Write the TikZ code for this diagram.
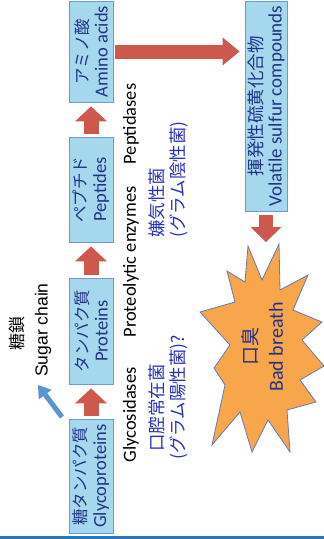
\documentclass[tikz,border=0pt]{standalone}
\usepackage{fontspec}
\setmainfont{Carlito}
\newfontfamily\jp{Noto Sans CJK JP}
\newfontfamily\ari{Liberation Sans}
\usetikzlibrary{arrows.meta}
\definecolor{boxfill}{RGB}{165,216,236}
\definecolor{boxline}{RGB}{110,155,205}
\definecolor{boxtext}{RGB}{35,50,135}
\definecolor{redarr}{RGB}{205,88,78}
\definecolor{labblue}{RGB}{40,50,185}
\definecolor{starfill}{RGB}{248,166,76}
\definecolor{starline}{RGB}{95,125,185}
\definecolor{sugarblue}{RGB}{88,150,210}
\definecolor{barblue}{RGB}{46,117,182}
\begin{document}
\begin{tikzpicture}[x=1pt,y=-1pt,
  stagebox/.style={draw=boxline, line width=0.8pt, fill=boxfill, rotate=90, align=center,
    text=boxtext, inner sep=0pt, minimum height=44pt, font=\fontsize{18.5}{19.5}\selectfont},
  lab/.style={rotate=90, inner sep=0pt, font=\fontsize{18.5}{21}\selectfont},
  bluelab/.style={rotate=90, inner sep=0pt, anchor=west, text=labblue, font=\jp\fontsize{17.5}{21}\selectfont},
  stagearrow/.style={draw=redarr, line width=15pt, -{Triangle[width=32pt,length=15pt,line width=0pt]}, shorten <=3pt, shorten >=4pt},
  bigarrow/.style={draw=redarr, line width=14pt, -{Triangle[width=28pt,length=17pt,line width=0pt]}, shorten <=2pt, shorten >=5pt},
  downarrow/.style={draw=redarr, line width=14pt, -{Triangle[width=31pt,length=15pt,line width=0pt]}, shorten <=4pt, shorten >=4pt},
  sugararrow/.style={draw=sugarblue, line width=5pt, -{Triangle[width=16pt,length=12pt,line width=0pt]}},
  startext/.style={rotate=90, inner sep=0pt, text=boxtext}
]
\useasboundingbox (0,0) rectangle (324,539);
% stage boxes
\node[stagebox, minimum width=114pt] (glyco) at (91,476) {{\jp\fontsize{16.5}{19}\selectfont 糖タンパク質}\\Glycoproteins};
\node[stagebox, minimum width=106pt] (prot) at (91,331) {{\jp\fontsize{16.5}{19}\selectfont タンパク質}\\Proteins};
\node[stagebox, minimum width=105pt] (pept) at (91,189.5) {{\jp\fontsize{16.5}{19}\selectfont ペプチド}\\Peptides};
\node[stagebox, minimum width=101pt] (amino) at (91,51.5) {{\jp\fontsize{16.5}{19}\selectfont アミノ酸}\\Amino acids};
\node[stagebox, minimum height=42pt, minimum width=210pt, font=\fontsize{19}{19.5}\selectfont] (vsc) at (266,106) {{\jp\fontsize{17.5}{19}\selectfont 揮発性硫黄化合物}\\Volatile sulfur compounds};
% arrows between stages
\draw[stagearrow] (glyco.east) -- (prot.west);
\draw[stagearrow] (prot.east) -- (pept.west);
\draw[stagearrow] (pept.east) -- (amino.west);
\draw[bigarrow] (amino.south) -- (amino.south -| vsc.north);
% sugar chain
\node[rotate=90, inner sep=0pt, font=\jp\fontsize{17}{20}\selectfont] (tousa) at (17,333) {糖鎖};
\node[rotate=90, inner sep=0pt, font=\ari\fontsize{17.5}{20}\selectfont] (sugar) at (43,330) {Sugar chain};
\coordinate (stail) at (62,417);
\coordinate (stip) at (38,385);
\draw[sugararrow] (stail) -- (stip);
% enzyme labels
\node[lab] (glycosid) at (131,415) {Glycosidases};
\node[lab] (proteo) at (131,262) {Proteolytic enzymes};
\node[lab] (peptid) at (131,124) {Peptidases};
% bacteria labels
\node[bluelab] (oral1) at (157,452) {口腔常在菌};
\node[bluelab] (oral2) at (179,460) {(グラム陽性菌)?};
\node[bluelab] (anae1) at (157,238) {嫌気性菌};
\node[bluelab] (anae2) at (179,238) {(グラム陰性菌)};
% starburst
\draw[draw=starline, fill=starfill, line width=0.8pt]
  (248,246) -- (262,280) -- (279,244) -- (280,290) -- (308,275) -- (293,310)
  -- (322,322) -- (302,340) -- (324,366) -- (300,380) -- (316,402) -- (287,410)
  -- (290,452) -- (268,420) -- (252,452) -- (240,412) -- (212,445) -- (225,385)
  -- (214,368) -- (230,345) -- (200,312) -- (235,302) -- (227,271) -- (245,282) -- cycle;
\coordinate (startop) at (266,246);
\node[startext, font=\jp\fontsize{19}{22}\selectfont] (kous) at (250,346) {口臭};
\node[startext, font=\fontsize{20}{22}\selectfont] (bad) at (276,347) {Bad breath};
\draw[downarrow] (vsc.west) -- (startop);
% bottom bar
\fill[barblue] (0,535.5) rectangle (324,539);
\end{tikzpicture}
\end{document}
